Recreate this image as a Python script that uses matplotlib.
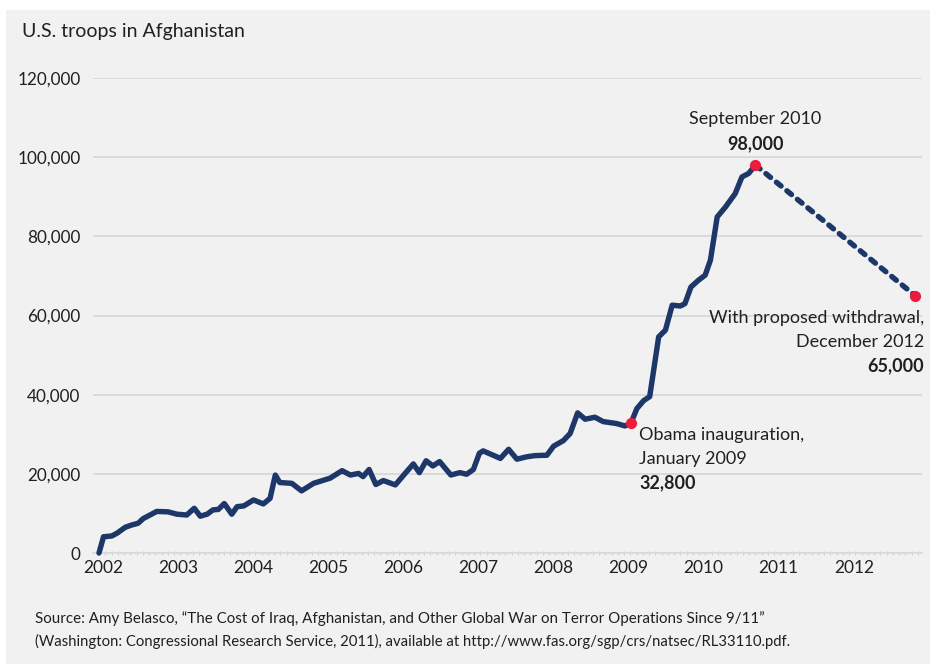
import numpy as np
import matplotlib
matplotlib.use('Agg')
from matplotlib import pyplot as plt
from matplotlib.patches import Rectangle

plt.rcParams['font.family'] = ['Liberation Sans Narrow', 'Lato', 'DejaVu Sans']

# troop levels (decimal year, troops)
years = [2002.00, 2002.06, 2002.17, 2002.24, 2002.35, 2002.44, 2002.52, 2002.59, 2002.68, 2002.77,
         2002.92, 2003.04, 2003.17, 2003.27, 2003.35, 2003.44, 2003.52, 2003.59, 2003.67, 2003.77,
         2003.84, 2003.93, 2004.06, 2004.19, 2004.28, 2004.35, 2004.41, 2004.57, 2004.70, 2004.86,
         2005.08, 2005.24, 2005.35, 2005.46, 2005.52, 2005.60, 2005.69, 2005.79, 2005.95, 2006.08,
         2006.19, 2006.27, 2006.36, 2006.45, 2006.54, 2006.69, 2006.81, 2006.90, 2006.99, 2007.07,
         2007.12, 2007.35, 2007.46, 2007.57, 2007.70, 2007.81, 2007.97, 2008.06, 2008.19, 2008.28,
         2008.38, 2008.48, 2008.61, 2008.72, 2008.90, 2009.01, 2009.09, 2009.17, 2009.26, 2009.34,
         2009.38, 2009.46, 2009.55, 2009.64, 2009.75, 2009.81, 2009.89, 2009.99, 2010.08, 2010.15,
         2010.24, 2010.35, 2010.48, 2010.57, 2010.66, 2010.75]
troops = [0, 4100, 4300, 5000, 6500, 7100, 7500, 8700, 9600, 10500,
          10400, 9800, 9600, 11300, 9300, 9800, 10900, 11000, 12500, 9800,
          11700, 11900, 13400, 12400, 13800, 19700, 17800, 17600, 15700, 17600,
          18900, 20800, 19700, 20100, 19300, 21100, 17300, 18300, 17200, 20100,
          22500, 20300, 23300, 22000, 23100, 19700, 20300, 19900, 21100, 25200,
          25800, 23900, 26200, 23700, 24300, 24600, 24700, 27000, 28400, 30200,
          35400, 33800, 34300, 33200, 32700, 32100, 32800, 36500, 38500, 39500,
          44500, 54600, 56300, 62600, 62400, 63000, 67200, 68900, 70200, 74000,
          84900, 87400, 90800, 95000, 95900, 98000]

# proposed withdrawal (dashed)
plan_years = [2010.75, 2012.88]
plan_troops = [98000, 65000]

# highlighted points
key_years = [2009.09, 2010.75, 2012.88]
key_troops = [32800, 98000, 65000]

year_ticks = list(range(2002, 2013))
y_ticks = [0, 20000, 40000, 60000, 80000, 100000, 120000]

navy = '#1d3768'
red = '#ec1c3c'
bg = '#f1f1f1'
ink = '#231f20'

fig = plt.figure(figsize=(9.3, 6.64), dpi=100)
fig.patch.set_facecolor(bg)
# white strip at top and left (cropped screenshot)
fig.patches.append(Rectangle((0, 1 - 10 / 664), 1, 10 / 664, transform=fig.transFigure,
                             facecolor='white', edgecolor='none', zorder=0))
fig.patches.append(Rectangle((0, 0), 6 / 930, 1, transform=fig.transFigure,
                             facecolor='white', edgecolor='none', zorder=0))

ax = fig.add_axes([93 / 930, 1 - 553 / 664, (922 - 93) / 930, (553 - 78) / 664])
ax.set_facecolor(bg)

ax.plot(years, troops, color=navy, lw=3.9, solid_joinstyle='round', solid_capstyle='round',
        zorder=3, clip_on=False)
ax.plot(plan_years, plan_troops, color=navy, lw=3.9, linestyle=(0, (1.1, 1.4)),
        dash_capstyle='round', zorder=3, clip_on=False)
ax.scatter(key_years, key_troops, s=65, color=red, zorder=4, clip_on=False, linewidths=0)

ax.set_xlim(2001.92, 2012.97)
ax.set_ylim(0, 120000)
ax.set_yticks(y_ticks)
ax.set_yticklabels(['0' if v == 0 else f'{v:,}' for v in y_ticks])
ax.set_xticks([y + 0.06 for y in year_ticks])
ax.set_xticklabels([str(y) for y in year_ticks])
ax.set_xticks(np.arange(2002, 2013, 1 / 12), minor=True)

ax.grid(axis='y', color='#d8d8d8', lw=1.3)
ax.set_axisbelow(True)
for s in ['top', 'right', 'left']:
    ax.spines[s].set_visible(False)
ax.spines['bottom'].set_color('#dadada')
ax.spines['bottom'].set_linewidth(1.3)
ax.tick_params(axis='y', length=0, pad=9, labelsize=12.3, labelcolor=ink)
ax.tick_params(axis='x', which='major', length=0, pad=5, labelsize=12.5, labelcolor=ink)
ax.tick_params(axis='x', which='minor', length=2.5, width=0.6, color='#c8c8c8', direction='inout')

fig.text(22 / 930, 1 - 32 / 664, 'U.S. troops in Afghanistan', fontsize=14,
         color=ink, va='center', ha='left')

# annotations
fs = 13
ax.text(2010.75, 109600, 'September 2010', fontsize=fs, ha='center', va='center', color=ink)
ax.text(2010.75, 103500, '98,000', fontsize=fs, fontweight='bold', ha='center', va='center',
        color=ink)
ax.text(2009.2, 29800, 'Obama inauguration,', fontsize=fs, ha='left', va='center', color=ink)
ax.text(2009.2, 23700, 'January 2009', fontsize=fs, ha='left', va='center', color=ink)
ax.text(2009.2, 17700, '32,800', fontsize=fs, fontweight='bold', ha='left', va='center',
        color=ink)
ax.text(2013.0, 59300, 'With proposed withdrawal,', fontsize=fs, ha='right', va='center',
        color=ink)
ax.text(2013.0, 53300, 'December 2012', fontsize=fs, ha='right', va='center', color=ink)
ax.text(2013.0, 47200, '65,000', fontsize=fs, fontweight='bold', ha='right', va='center',
        color=ink)

fig.text(35 / 930, 1 - 619 / 664,
         'Source: Amy Belasco, \u201cThe Cost of Iraq, Afghanistan, and Other Global War on Terror '
         'Operations Since 9/11\u201d', fontsize=10.9, color=ink, va='center')
fig.text(35 / 930, 1 - 641 / 664,
         '(Washington: Congressional Research Service, 2011), available at '
         'http://www.fas.org/sgp/crs/natsec/RL33110.pdf.', fontsize=10.7, color=ink,
         va='center')

fig.savefig('out.png', dpi=100, facecolor=fig.get_facecolor())
